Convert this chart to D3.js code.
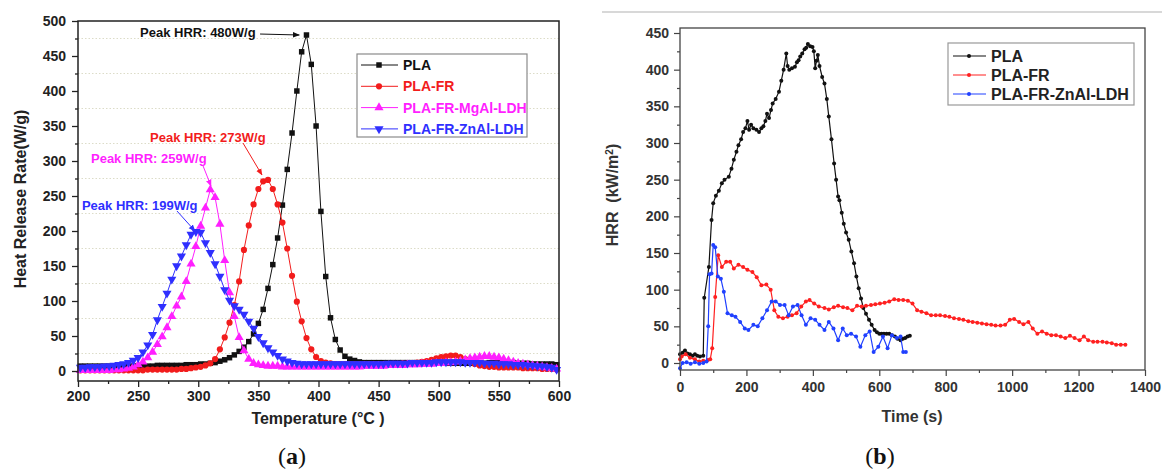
<!DOCTYPE html>
<html>
<head>
<meta charset="utf-8">
<title>Heat release rate</title>
<script src="https://cdnjs.cloudflare.com/ajax/libs/d3/7.8.5/d3.min.js"></script>
<style>
  body { margin: 0; background: #fff; }
  #chart { display: block; }
  text { font-family: "Liberation Sans", Arial, sans-serif; font-weight: bold; }
  text.caption { font-family: "Liberation Serif", "Times New Roman", serif; font-weight: normal; }
</style>
</head>
<body>
<svg id="chart" width="1162" height="470"></svg>
<script>
// ---- (a) HRR vs temperature, sampled every 4 degC from 202 to 598 ----
var tempA = d3.range(202, 599, 4);
var plaA = [7,7,7,7,7,7,7,7,7,7, 7,7,7,7,7,7,8,8,8,8, 8,8,9,9,9,10,10,11,12,14,
  16,19,23,28,34,42,53,68,88,118, 152,190,237,288,340,400,456,480,438,350,
  228,135,76,45,30,21,17,15,13,12, 12,12,12,12,12,12,12,12,12,12,
  12,12,12,12,12,12,11,11,11,11, 11,11,11,11,11,12,12,12,12,12, 12,11,11,11,10,10,10,10,10,9];
var frA = [1,1,1,1,1,1,1,1,1,1, 1,1,1,1,2,2,2,2,2,2, 2,3,3,4,5,6,8,11,17,31,
  48,69,94,128,173,208,238,260,271,273, 260,238,212,175,136,99,71,47,31,20,
  14,12,11,10,10,10,10,10,10,10, 10,10,10,10,10,10,10,11,11,11,
  12,13,14,16,18,20,21,22,22,20, 17,13,10,8,7,6,6,5,5,5, 5,5,4,4,4,4,3,3,3,2];
var mgA = [1,1,1,1,1,1,1,2,2,3, 4,6,9,13,19,27,38,49,62,78, 93,106,128,153,178,207,233,259,248,210,
  158,112,78,48,29,17,11,9,8,7, 7,7,6,6,6,6,6,6,6,6,
  6,6,6,6,6,6,6,6,6,7, 7,7,7,7,8,8,8,8,9,9,
  9,10,10,10,11,11,12,12,13,14, 16,18,19,20,21,21,20,19,17,15, 13,11,10,9,8,7,6,5,4,3];
var znA = [5,5,6,6,6,7,7,8,9,10, 12,15,19,27,37,52,73,92,111,131, 150,164,180,195,199,198,183,169,153,135,
  116,101,93,88,81,71,61,49,40,33, 27,22,17,14,12,11,10,10,10,10,
  10,10,10,10,10,10,10,10,10,10, 10,10,10,10,11,11,11,11,11,12,
  12,12,12,12,13,13,13,13,13,13, 12,12,12,12,11,11,11,10,10,10, 9,9,9,8,8,7,7,6,5,2];
var namesA = ["PLA", "PLA-FR", "PLA-FR-MgAl-LDH", "PLA-FR-ZnAl-LDH"];
var xTicksA = [200, 250, 300, 350, 400, 450, 500, 550, 600];
var yTicksA = [0, 50, 100, 150, 200, 250, 300, 350, 400, 450, 500];

// ---- (b) HRR vs time, cone calorimeter ----
var plaTime = [0,8,15,22,30,38,45,52,60,70,73,87,95,100,108,117,126,134,147,155,162,170,176,184,190,197,203,208,214,221,
  230,238,245,251,257,262,268,274,279,288,298,305,312,320,324,329,337,346,352,357,362,368,375,380,385,392,399,403,407,411,
  415,420,428,435,442,448,456,464,470,476,480,487,493,500,508,516,524,531,538,545,552,560,569,577,586,593,600,607,614,622,
  630,638,647,655,664,671,678,685,692];
var plaHRR = [12,14,17,13,12,10,12,10,9,10,89,131,195,218,228,235,245,250,254,265,277,288,297,305,315,320,330,318,325,320,
  318,315,320,323,330,340,334,345,354,360,370,385,400,422,405,400,402,404,410,413,418,422,428,430,435,432,431,425,402,412,
  420,405,390,381,360,336,305,272,250,227,222,205,190,178,168,152,136,118,102,88,75,67,59,52,45,42,40,40,40,40,
  40,38,36,33,31,33,34,36,37];
var frTime = [0,5,17,30,45,58,70,84,91,97,106,115,126,139,151,162,176,190,203,218,231,245,260,273,284,296,310,324,337,351,
  365,379,390,404,418,435,448,463,476,491,504,519,533,547,560,575,588,602,616,630,645,658,672,686,700,714,727,742,756,770,
  783,798,811,825,840,853,868,881,895,909,923,937,950,965,979,993,1006,1021,1034,1049,1062,1076,1090,1104,1118,1132,1146,1160,1174,1188,
  1203,1216,1229,1244,1257,1272,1285,1300,1313,1327,1341];
var frHRR = [5,9,12,7,5,2,3,4,5,20,90,147,131,138,138,129,134,131,127,124,117,106,107,100,72,63,61,63,65,68,
  77,84,86,81,77,75,73,76,78,76,75,72,78,77,78,79,80,81,82,84,87,86,86,85,81,72,70,68,65,65,
  65,64,63,61,60,59,57,56,55,54,53,52,51,51,52,59,60,56,53,56,47,40,43,40,38,38,36,34,37,34,
  31,36,31,29,29,29,28,27,25,25,25];
var znTime = [0,8,20,32,45,58,70,80,85,89,95,100,106,114,123,132,143,156,167,181,195,206,221,234,248,262,276,288,301,315,
  327,340,354,366,379,393,407,420,435,448,462,476,490,502,515,530,543,558,571,583,597,611,625,638,653,664,672,680];
var znHRR = [-7,0,1,-1,1,-1,0,2,50,121,122,161,158,118,115,97,68,65,63,56,47,45,52,50,61,72,84,84,79,79,
  65,77,79,65,52,61,59,52,45,56,47,31,47,38,40,36,22,38,43,15,22,36,20,38,34,36,15,15];
var namesB = ["PLA", "PLA-FR", "PLA-FR-ZnAl-LDH"];
var xTicksB = [0, 200, 400, 600, 800, 1000, 1200, 1400];
var yTicksB = [0, 50, 100, 150, 200, 250, 300, 350, 400, 450];

var svg = d3.select("#chart");
var defs = svg.append("defs");

function arrowHead(id, color) {
  defs.append("marker").attr("id", id).attr("viewBox", "0 0 10 10")
    .attr("refX", 9).attr("refY", 5).attr("markerWidth", 7).attr("markerHeight", 7)
    .attr("markerUnits", "userSpaceOnUse").attr("orient", "auto")
    .append("path").attr("d", "M0,1 L10,5 L0,9 Z").attr("fill", color);
}

// ================= panel (a) =================
var xA = d3.scaleLinear().domain([200, 600]).range([78, 559]);
var yA = d3.scaleLinear().domain([0, 500]).range([371, 21]);
var boxA = { left: 78, right: 559, top: 21, bottom: 381 };
var colA = ["#111111", "#f21c1c", "#ff1fff", "#2f2fff"];
var shapeA = [d3.symbolSquare, d3.symbolCircle, d3.symbolTriangle, d3.symbolTriangle];
var sizeA = [30, 30, 36, 36];
var rotA = [0, 0, 0, 180];

var gA = svg.append("g");

// dotted grid at the minor ticks
gA.selectAll(".gridA").data(d3.range(25, 500, 50)).join("line")
  .attr("x1", boxA.left).attr("x2", boxA.right)
  .attr("y1", function (d) { return yA(d); }).attr("y2", function (d) { return yA(d); })
  .attr("stroke", "#dcdcc8").attr("stroke-width", 1).attr("stroke-dasharray", "1.5,2");

var seriesA = [plaA, frA, mgA, znA];
seriesA.forEach(function (vals, k) {
  var pts = tempA.map(function (t, i) { return [t, vals[i]]; });
  gA.append("path").datum(pts)
    .attr("d", d3.line().x(function (d) { return xA(d[0]); }).y(function (d) { return yA(d[1]); }))
    .attr("fill", "none").attr("stroke", colA[k]).attr("stroke-width", 1);
  gA.append("g").selectAll("path").data(pts).join("path")
    .attr("d", d3.symbol().type(shapeA[k]).size(sizeA[k]))
    .attr("transform", function (d) { return "translate(" + xA(d[0]) + "," + yA(d[1]) + ") rotate(" + rotA[k] + ")"; })
    .attr("fill", colA[k]);
});

gA.append("rect").attr("x", boxA.left).attr("y", boxA.top)
  .attr("width", boxA.right - boxA.left).attr("height", boxA.bottom - boxA.top)
  .attr("fill", "none").attr("stroke", "#222").attr("stroke-width", 1.5);

var axA = gA.append("g").attr("transform", "translate(0," + boxA.bottom + ")")
  .call(d3.axisBottom(xA).tickValues(xTicksA).tickSize(6).tickPadding(4).tickFormat(d3.format("d")));
var axAm = gA.append("g").attr("transform", "translate(0," + boxA.bottom + ")")
  .call(d3.axisBottom(xA).tickValues(d3.range(225, 600, 50)).tickSize(3).tickFormat(""));
var ayA = gA.append("g").attr("transform", "translate(" + boxA.left + ",0)")
  .call(d3.axisLeft(yA).tickValues(yTicksA).tickSize(6).tickPadding(6).tickFormat(d3.format("d")));
var ayAm = gA.append("g").attr("transform", "translate(" + boxA.left + ",0)")
  .call(d3.axisLeft(yA).tickValues(d3.range(25, 500, 50)).tickSize(3).tickFormat(""));
[axA, axAm, ayA, ayAm].forEach(function (a) {
  a.select(".domain").remove();
  a.selectAll("line").attr("stroke", "#222").attr("stroke-width", 1.3);
  a.selectAll("text").attr("font-size", 14).attr("fill", "#222")
    .attr("font-family", null).attr("font-weight", null);
});

gA.append("text").attr("x", 318).attr("y", 424).attr("text-anchor", "middle")
  .attr("font-size", 16).attr("fill", "#222").text("Temperature (°C )");
gA.append("text").attr("transform", "translate(26,199) rotate(-90)").attr("text-anchor", "middle")
  .attr("font-size", 16).attr("fill", "#222").text("Heat Release Rate(W/g)");

// peak annotations
var notesA = [
  { text: "Peak HRR: 480W/g", k: 0, tx: 251.6, ty: 483, from: [351.4, 481.4], to: [384, 480] },
  { text: "Peak HRR: 273W/g", k: 1, tx: 259.9, ty: 334, from: [337.2, 325.7], to: [353, 280] },
  { text: "Peak HRR: 259W/g", k: 2, tx: 210.8, ty: 303, from: [304, 293], to: [310.6, 264.3] },
  { text: "Peak HRR: 199W/g", k: 3, tx: 203.3, ty: 237, from: [282.3, 228.6], to: [297.3, 200] }
];
notesA.forEach(function (n, i) {
  arrowHead("arrA" + i, colA[n.k]);
  gA.append("text").attr("x", xA(n.tx)).attr("y", yA(n.ty)).attr("dy", "0.35em")
    .attr("font-size", 13).attr("fill", colA[n.k]).text(n.text);
  gA.append("line").attr("x1", xA(n.from[0])).attr("y1", yA(n.from[1]))
    .attr("x2", xA(n.to[0])).attr("y2", yA(n.to[1]))
    .attr("stroke", colA[n.k]).attr("stroke-width", 1).attr("marker-end", "url(#arrA" + i + ")");
});

// legend (a)
var legA = gA.append("g");
legA.append("rect").attr("x", 357).attr("y", 54).attr("width", 170).attr("height", 83)
  .attr("fill", "#fff").attr("stroke", "#8a8a8a").attr("stroke-width", 1.2);
namesA.forEach(function (name, k) {
  var y = 65 + k * 21.3;
  legA.append("line").attr("x1", 361).attr("x2", 398).attr("y1", y).attr("y2", y)
    .attr("stroke", colA[k]).attr("stroke-width", 1);
  legA.append("path").attr("d", d3.symbol().type(shapeA[k]).size(sizeA[k]))
    .attr("transform", "translate(379," + y + ") rotate(" + rotA[k] + ")").attr("fill", colA[k]);
  legA.append("text").attr("x", 403).attr("y", y).attr("dy", "0.36em")
    .attr("font-size", 14).attr("fill", colA[k]).text(name);
});

// caption
svg.append("text").attr("class", "caption").attr("x", 292).attr("y", 464).attr("text-anchor", "middle")
  .attr("font-size", 24).attr("fill", "#111")
  .html('(<tspan style="font-weight:bold">a</tspan>)');

// ================= panel (b) =================
var xB = d3.scaleLinear().domain([0, 1400]).range([680, 1145]);
var yB = d3.scaleLinear().domain([0, 450]).range([363, 33]);
var boxB = { left: 680, right: 1145, top: 28, bottom: 370 };
var colB = ["#111111", "#ff2020", "#2040ff"];

var gB = svg.append("g");
svg.append("line").attr("x1", 602).attr("x2", 1162).attr("y1", 12).attr("y2", 12)
  .attr("stroke", "#d8d8d8").attr("stroke-width", 2);

var seriesB = [[plaTime, plaHRR], [frTime, frHRR], [znTime, znHRR]];
seriesB.forEach(function (s, k) {
  var pts = s[0].map(function (t, i) { return [t, s[1][i]]; });
  gB.append("path").datum(pts)
    .attr("d", d3.line().x(function (d) { return xB(d[0]); }).y(function (d) { return yB(d[1]); }))
    .attr("fill", "none").attr("stroke", colB[k]).attr("stroke-width", 1.2);
  gB.append("g").selectAll("circle").data(pts).join("circle")
    .attr("cx", function (d) { return xB(d[0]); }).attr("cy", function (d) { return yB(d[1]); })
    .attr("r", 2).attr("fill", colB[k]);
});

gB.append("rect").attr("x", boxB.left).attr("y", boxB.top)
  .attr("width", boxB.right - boxB.left).attr("height", boxB.bottom - boxB.top)
  .attr("fill", "none").attr("stroke", "#444").attr("stroke-width", 1.3);

var axB = gB.append("g").attr("transform", "translate(0," + boxB.bottom + ")")
  .call(d3.axisBottom(xB).tickValues(xTicksB).tickSize(6).tickPadding(6).tickFormat(d3.format("d")));
var axBm = gB.append("g").attr("transform", "translate(0," + boxB.bottom + ")")
  .call(d3.axisBottom(xB).tickValues(d3.range(100, 1400, 200)).tickSize(3).tickFormat(""));
var ayB = gB.append("g").attr("transform", "translate(" + boxB.left + ",0)")
  .call(d3.axisLeft(yB).tickValues(yTicksB).tickSize(6).tickPadding(5).tickFormat(d3.format("d")));
var ayBm = gB.append("g").attr("transform", "translate(" + boxB.left + ",0)")
  .call(d3.axisLeft(yB).tickValues(d3.range(25, 450, 50)).tickSize(3).tickFormat(""));
[axB, axBm, ayB, ayBm].forEach(function (a) {
  a.select(".domain").remove();
  a.selectAll("line").attr("stroke", "#444").attr("stroke-width", 1.2);
  a.selectAll("text").attr("font-size", 14).attr("fill", "#333")
    .attr("font-family", null).attr("font-weight", null);
});

gB.append("text").attr("x", 912).attr("y", 422).attr("text-anchor", "middle")
  .attr("font-size", 16).attr("fill", "#333").text("Time (s)");
gB.append("text").attr("transform", "translate(618,195) rotate(-90)").attr("text-anchor", "middle")
  .attr("font-size", 16).attr("fill", "#333")
  .html('HRR \u00a0(kW/m<tspan baseline-shift="super" font-size="10">2</tspan>)');

var legB = gB.append("g");
legB.append("rect").attr("x", 948).attr("y", 43).attr("width", 186).attr("height", 62)
  .attr("fill", "#fff").attr("stroke", "#999").attr("stroke-width", 1.2);
namesB.forEach(function (name, k) {
  var y = 56 + k * 19;
  legB.append("line").attr("x1", 953).attr("x2", 986).attr("y1", y).attr("y2", y)
    .attr("stroke", colB[k]).attr("stroke-width", 1.2);
  legB.append("circle").attr("cx", 969).attr("cy", y).attr("r", 2).attr("fill", colB[k]);
  legB.append("text").attr("x", 991).attr("y", y).attr("dy", "0.36em")
    .attr("font-size", 16).attr("fill", "#222").text(name);
});

svg.append("text").attr("class", "caption").attr("x", 880).attr("y", 464).attr("text-anchor", "middle")
  .attr("font-size", 24).attr("fill", "#111")
  .html('(<tspan style="font-weight:bold">b</tspan>)');
</script>
</body>
</html>
